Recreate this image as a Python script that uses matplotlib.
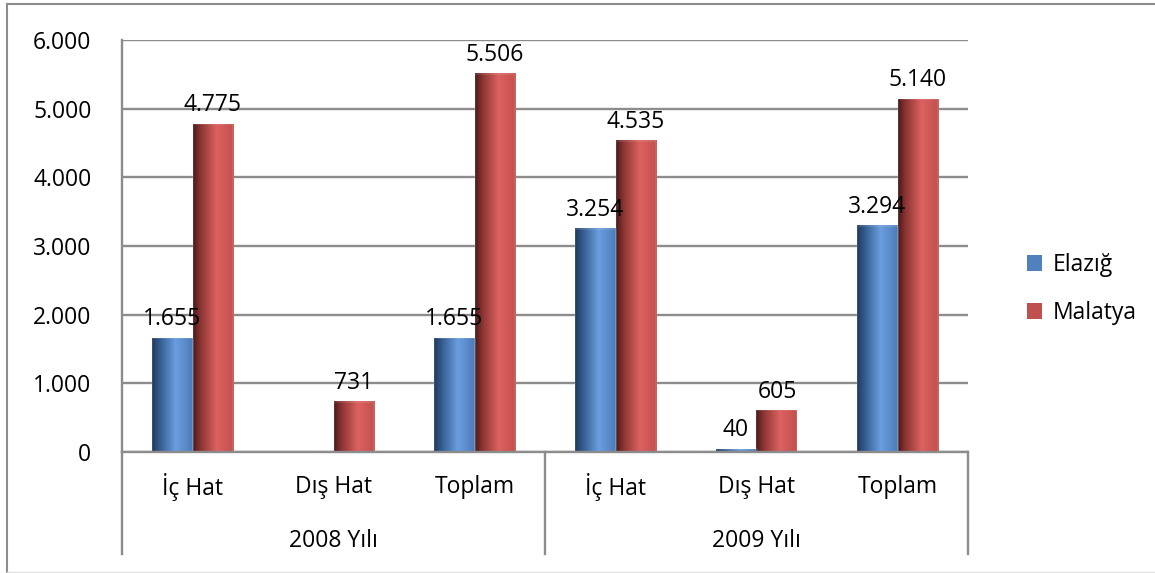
import numpy as np
import matplotlib
matplotlib.use('Agg')
import matplotlib.pyplot as plt
from matplotlib.colors import LinearSegmentedColormap
from matplotlib.patches import Patch, Rectangle
from matplotlib.lines import Line2D
import matplotlib.transforms as mtrans

plt.rcParams['font.family'] = ['Open Sans', 'DejaVu Sans']

# data
categories = ['İç Hat', 'Dış Hat', 'Toplam', 'İç Hat', 'Dış Hat', 'Toplam']
years = ['2008 Yılı', '2009 Yılı']
series_names = ['Elazığ', 'Malatya']
elazig = [1655, None, 1655, 3254, 40, 3294]
malatya = [4775, 731, 5506, 4535, 605, 5140]
yticks = [0, 1000, 2000, 3000, 4000, 5000, 6000]
ytick_labels = ['0', '1.000', '2.000', '3.000', '4.000', '5.000', '6.000']

colors = ['#4F81BD', '#C0504D']
cmaps = [
    LinearSegmentedColormap.from_list('b', [(0, '#1f3a5c'), (0.18, '#335a8c'), (0.58, '#6a9ee0'), (0.8, '#5c8ccc'), (1, '#4a7bb8')]),
    LinearSegmentedColormap.from_list('r', [(0, '#4a1a1a'), (0.18, '#8a3432'), (0.58, '#dc6260'), (0.8, '#cf5856'), (1, '#c0504d')]),
]

fig = plt.figure(figsize=(11.55, 5.73), dpi=100)
ax = fig.add_axes([122/1155, 1-452/573, (968-122)/1155, (452-40)/573])

# outer frame
fig.add_artist(Line2D([7/1155, 7/1155], [1-572/573, 1-4/573], color='#8c8c8c', lw=1.5, transform=fig.transFigure))
fig.add_artist(Line2D([7/1155, 1], [1-4/573, 1-4/573], color='#8c8c8c', lw=1.5, transform=fig.transFigure))
fig.add_artist(Line2D([7/1155, 1], [1-571.5/573, 1-571.5/573], color='#e0e0e0', lw=1.0, transform=fig.transFigure))

x = np.arange(len(categories))
w = 0.29
grad = np.linspace(0, 1, 256).reshape(1, -1)
fs = 16.5

for si, vals in enumerate([elazig, malatya]):
    off = (si - 0.5) * w
    for xi, v in zip(x, vals):
        if v is None:
            continue
        x0 = xi + off - w / 2
        ax.imshow(grad, cmap=cmaps[si], extent=[x0, x0 + w, 0, v], aspect='auto', zorder=3, interpolation='bilinear')
        ax.add_patch(Rectangle((x0, 0), w, v, fill=False, edgecolor='#ffffff', lw=0.3, alpha=0.5, zorder=4))
        ax.annotate(f'{v:,}'.replace(',', '.'), (xi + off, v), xytext=(0, 5), textcoords='offset points',
                    ha='center', va='bottom', fontsize=fs, zorder=5)

ax.set_xlim(-0.5, len(categories) - 0.5)
ax.set_ylim(0, 6000)
ax.set_yticks(yticks)
ax.set_yticklabels(ytick_labels, fontsize=fs)
ax.tick_params(axis='y', length=0, pad=22)
ax.set_xticks([])
ax.grid(axis='y', color='#8c8c8c', lw=1.7, zorder=1)
ax.set_axisbelow(True)
for s in ['top', 'right']:
    ax.spines[s].set_visible(False)
ax.spines['left'].set_color('#8c8c8c')
ax.spines['left'].set_linewidth(1.7)
ax.spines['bottom'].set_color('#8c8c8c')
ax.spines['bottom'].set_linewidth(1.7)
ax.spines['bottom'].set_zorder(6)

# multi-level category axis
tr = mtrans.blended_transform_factory(ax.transData, ax.transAxes)
for xs in [-0.5, 2.5, 5.5]:
    ax.add_line(Line2D([xs, xs], [0, -102/412], color='#8c8c8c', lw=1.7, transform=tr, clip_on=False))
for xi, c in zip(x, categories):
    ax.text(xi, -35/412, c, transform=tr, ha='center', va='center', fontsize=fs)
for yi, yr in enumerate(years):
    ax.text(yi * 3 + 1, -89/412, yr, transform=tr, ha='center', va='center', fontsize=fs)

handles = [Patch(facecolor=c, edgecolor='none') for c in colors]
fig.legend(handles, series_names, loc='center left', bbox_to_anchor=(1006/1155, 1-289/573),
           frameon=False, fontsize=fs, handlelength=0.65, handleheight=0.65, labelspacing=1.05, handletextpad=0.5)

fig.savefig('out.png', dpi=100, facecolor='white')
